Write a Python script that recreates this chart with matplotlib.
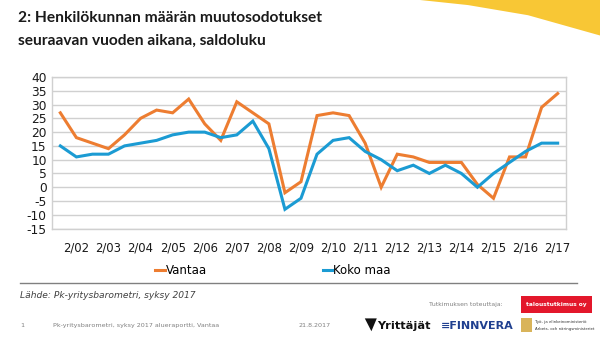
import matplotlib
matplotlib.use("Agg")
import matplotlib.pyplot as plt
from matplotlib.patches import Polygon, Rectangle
import numpy as np

# Survey rounds: 1 = spring, 2 = autumn
periods = ["1/02", "2/02", "1/03", "2/03", "1/04", "2/04", "1/05", "2/05",
           "1/06", "2/06", "1/07", "2/07", "1/08", "2/08", "1/09", "2/09",
           "1/10", "2/10", "1/11", "2/11", "1/12", "2/12", "1/13", "2/13",
           "1/14", "2/14", "1/15", "2/15", "1/16", "2/16", "1/17", "2/17"]

vantaa = [27, 18, 16, 14, 19, 25, 28, 27, 32, 23, 17, 31, 27, 23, -2, 2,
          26, 27, 26, 16, 0, 12, 11, 9, 9, 9, 1, -4, 11, 11, 29, 34]

koko_maa = [15, 11, 12, 12, 15, 16, 17, 19, 20, 20, 18, 19, 24, 14, -8, -4,
            12, 17, 18, 13, 10, 6, 8, 5, 8, 5, 0, 5, 9, 13, 16, 16]

series_names = ["Vantaa", "Koko maa"]
series_colors = ["#ED7D31", "#1B9BD3"]
y_ticks = list(range(-15, 41, 5))

plt.rcParams["font.family"] = ["DejaVu Sans"]

fig = plt.figure(figsize=(6.0, 3.38), dpi=100)
fig.patch.set_facecolor("white")

# Yellow corner decoration
yellow = Polygon([(0.70, 1.0), (0.78, 0.985), (0.88, 0.955), (1.0, 0.895), (1.0, 1.0)],
                 closed=True, transform=fig.transFigure, facecolor="#F8C735",
                 edgecolor="none")
fig.patches.append(yellow)

title_font = ["Lato", "DejaVu Sans"]
fig.text(0.03, 0.948, "2: Henkilökunnan määrän muutosodotukset", family=title_font,
         fontsize=11.2, fontweight="bold", color="#1a1a1a", va="center", ha="left")
fig.text(0.03, 0.880, "seuraavan vuoden aikana, saldoluku", family=title_font,
         fontsize=11.2, fontweight="bold", color="#1a1a1a", va="center", ha="left")

ax = fig.add_axes([0.0872, 0.3237, 0.8556, 0.4485])
x = np.arange(len(periods))
ax.plot(x, vantaa, color=series_colors[0], lw=2.2, solid_joinstyle="miter",
        label=series_names[0], zorder=3)
ax.plot(x, koko_maa, color=series_colors[1], lw=2.2, solid_joinstyle="miter",
        label=series_names[1], zorder=4)

ax.set_xlim(-0.5, len(periods) - 0.5)
ax.set_ylim(-15, 40)
ax.set_yticks(y_ticks)
ax.set_yticklabels([str(v) for v in y_ticks])
tick_idx = [i for i, p in enumerate(periods) if p.startswith("2/")]
ax.set_xticks(tick_idx)
ax.set_xticklabels([periods[i] for i in tick_idx])
ax.tick_params(axis="both", length=0, labelsize=8.4, colors="#1a1a1a")
ax.tick_params(axis="y", labelsize=8.8, pad=4)
ax.tick_params(axis="x", pad=9)
ax.grid(axis="y", color="#D0D0D0", lw=1.0)
ax.set_axisbelow(True)
for s in ax.spines.values():
    s.set_color("#D0D0D0")
    s.set_linewidth(1.0)

leg = fig.legend(handles=ax.get_lines(), labels=series_names, loc="center",
                 bbox_to_anchor=(0.455, 0.2), ncol=2, frameon=False,
                 fontsize=8.5, handlelength=0.8, handletextpad=0.1,
                 columnspacing=9.8)

# Separator under the chart
fig.add_artist(plt.Line2D([0.033, 0.962], [0.162, 0.162], transform=fig.transFigure,
                          color="#808080", lw=1.0))

fig.text(0.033, 0.125, "Lähde: Pk-yritysbarometri, syksy 2017", fontsize=6.6,
         style="italic", color="#404040", va="center")

# Footer
fig.text(0.033, 0.036, "1", fontsize=4.6, color="#808080", va="center")
fig.text(0.088, 0.036, "Pk-yritysbarometri, syksy 2017 alueraportti, Vantaa",
         fontsize=4.6, color="#808080", va="center")
fig.text(0.497, 0.036, "21.8.2017", fontsize=4.6, color="#808080", va="center")
fig.text(0.838, 0.098, "Tutkimuksen toteuttaja:", fontsize=4.4, color="#808080",
         va="center", ha="right")
fig.patches.append(Rectangle((0.868, 0.075), 0.118, 0.048, transform=fig.transFigure,
                             facecolor="#E3172B", edgecolor="none"))
fig.text(0.927, 0.099, "taloustutkimus oy", fontsize=4.2, color="white",
         fontweight="bold", va="center", ha="center")
fig.text(0.628, 0.036, "Yrittäjät", fontsize=8.2, color="#111111",
         fontweight="bold", va="center", ha="left")
fig.patches.append(Polygon([(0.608, 0.058), (0.628, 0.058), (0.619, 0.020)],
                           closed=True, transform=fig.transFigure,
                           facecolor="#111111", edgecolor="none"))
fig.text(0.735, 0.036, "\u2261FINNVERA", fontsize=8.0, color="#1F3F8F",
         fontweight="bold", va="center", ha="left")
fig.patches.append(Rectangle((0.868, 0.018), 0.018, 0.042, transform=fig.transFigure,
                             facecolor="#D9B45A", edgecolor="none"))
fig.text(0.892, 0.046, "Työ- ja elinkeinoministeriö", fontsize=2.8, color="#333333",
         va="center", ha="left")
fig.text(0.892, 0.028, "Arbets- och näringsministeriet", fontsize=2.8, color="#333333",
         va="center", ha="left")

fig.savefig("out.png", dpi=100, facecolor="white")
